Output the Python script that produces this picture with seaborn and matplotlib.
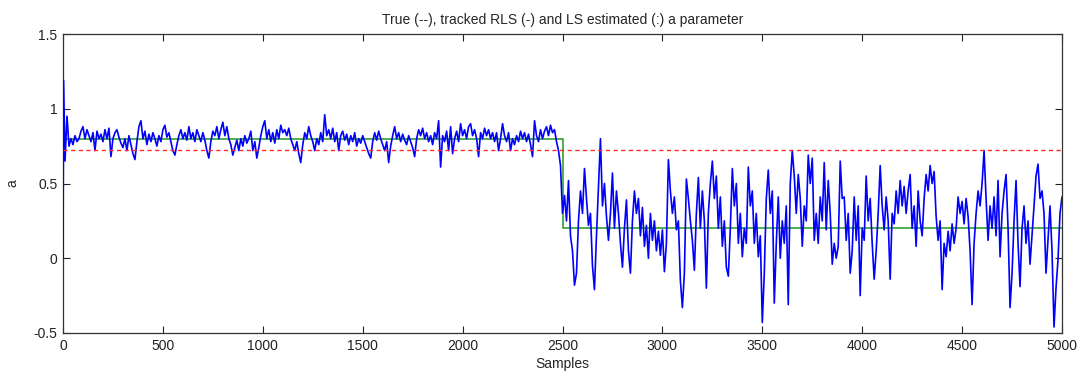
import numpy as np
import pandas as pd
import matplotlib
matplotlib.use("Agg")
import matplotlib.pyplot as plt
import seaborn as sns

# ---- data ----
title = "True (--), tracked RLS (-) and LS estimated (:) a parameter"
xlabel = "Samples"
ylabel = "a"
xticks = [0, 500, 1000, 1500, 2000, 2500, 3000, 3500, 4000, 4500, 5000]
yticks = [-0.5, 0, 0.5, 1, 1.5]

# true parameter (step) and LS estimate (constant)
true_samples = [0, 2500, 5000]
true_values = [0.8, 0.2, 0.2]
ls_samples = [0, 5000]
ls_values = [0.724, 0.724]

# tracked RLS estimate, read every 10 samples (plus the initial spike)
rls_samples = [0, 3] + list(range(10, 5001, 10))
rls_first_half = [
    0.00, 1.19,
    0.65, 0.95, 0.75, 0.80, 0.76, 0.82, 0.78, 0.80, 0.85,
    0.88, 0.80, 0.86, 0.82, 0.78, 0.84, 0.72, 0.85, 0.80, 0.83,
    0.78, 0.86, 0.80, 0.87, 0.68, 0.80, 0.84, 0.86, 0.81, 0.77,
    0.74, 0.80, 0.72, 0.82, 0.76, 0.70, 0.66, 0.78, 0.88, 0.92,
    0.80, 0.85, 0.76, 0.83, 0.78, 0.84, 0.80, 0.75, 0.82, 0.78,
    0.86, 0.89, 0.81, 0.84, 0.78, 0.72, 0.69, 0.76, 0.82, 0.86,
    0.80, 0.84, 0.79, 0.88, 0.80, 0.84, 0.78, 0.86, 0.82, 0.78,
    0.84, 0.79, 0.72, 0.67, 0.78, 0.85, 0.82, 0.88, 0.80, 0.86,
    0.91, 0.82, 0.88, 0.80, 0.76, 0.69, 0.74, 0.79, 0.72, 0.80,
    0.75, 0.82, 0.77, 0.80, 0.85, 0.72, 0.78, 0.67, 0.74, 0.82,
    0.88, 0.92, 0.80, 0.86, 0.78, 0.84, 0.77, 0.86, 0.80, 0.89,
    0.84, 0.86, 0.82, 0.87, 0.80, 0.76, 0.72, 0.78, 0.70, 0.64,
    0.76, 0.84, 0.80, 0.88, 0.82, 0.78, 0.72, 0.80, 0.76, 0.84,
    0.78, 0.96, 0.82, 0.86, 0.80, 0.87, 0.78, 0.84, 0.72, 0.82,
    0.85, 0.79, 0.83, 0.76, 0.82, 0.78, 0.84, 0.75, 0.80, 0.77,
    0.82, 0.78, 0.74, 0.70, 0.67, 0.78, 0.84, 0.79, 0.85, 0.80,
    0.76, 0.72, 0.78, 0.64, 0.75, 0.82, 0.88, 0.80, 0.84, 0.78,
    0.83, 0.79, 0.76, 0.82, 0.78, 0.74, 0.68, 0.80, 0.86, 0.82,
    0.87, 0.80, 0.84, 0.78, 0.82, 0.76, 0.84, 0.80, 0.92, 0.61,
    0.82, 0.78, 0.85, 0.72, 0.88, 0.70, 0.80, 0.85, 0.78, 0.90,
    0.82, 0.86, 0.80, 0.88, 0.90, 0.82, 0.86, 0.80, 0.68, 0.84,
    0.80, 0.87, 0.82, 0.86, 0.80, 0.84, 0.78, 0.84, 0.72, 0.80,
    0.90, 0.82, 0.78, 0.84, 0.72, 0.80, 0.76, 0.82, 0.78, 0.85,
    0.80, 0.84, 0.78, 0.83, 0.76, 0.68, 0.92, 0.82, 0.78, 0.86,
    0.80, 0.85, 0.88, 0.82, 0.89, 0.84, 0.86, 0.78, 0.72, 0.62,
]
rls_second_half = [
    0.30, 0.42, 0.25, 0.52, 0.15, 0.05, -0.18, -0.10, 0.25, 0.45,
    0.30, 0.60, 0.40, 0.22, 0.30, -0.05, -0.21, 0.15, 0.48, 0.80,
    0.35, 0.50, 0.28, 0.12, 0.30, 0.57, 0.20, 0.45, 0.30, 0.10,
    -0.06, 0.20, 0.39, 0.05, -0.10, 0.25, 0.45, 0.30, 0.40, 0.15,
    0.34, 0.08, 0.22, 0.00, 0.30, 0.12, 0.25, 0.05, 0.18, 0.02,
    0.19, -0.09, 0.10, 0.66, 0.45, 0.30, 0.41, 0.19, 0.25, -0.15,
    -0.33, -0.10, 0.53, 0.40, 0.25, 0.12, -0.08, 0.30, 0.54, 0.20,
    0.45, 0.25, -0.20, 0.30, 0.50, 0.65, 0.40, 0.55, 0.20, 0.41,
    0.08, 0.25, -0.06, -0.12, 0.20, 0.60, 0.35, 0.50, 0.10, 0.30,
    0.01, 0.20, 0.10, 0.61, 0.35, 0.45, 0.10, 0.30, 0.01, 0.15,
    -0.43, -0.10, 0.40, 0.59, 0.30, 0.45, -0.30, 0.10, 0.41, 0.00,
    0.25, 0.10, 0.35, -0.31, 0.50, 0.72, 0.55, 0.30, 0.56, 0.40,
    0.08, 0.35, 0.25, 0.69, 0.50, 0.67, 0.12, 0.30, 0.10, 0.41,
    0.25, 0.64, 0.19, 0.52, 0.30, -0.04, 0.10, 0.00, 0.08, 0.65,
    0.40, 0.41, 0.12, 0.30, -0.10, 0.05, 0.41, 0.12, 0.35, -0.25,
    0.20, 0.12, 0.55, 0.25, 0.40, 0.10, -0.14, 0.05, 0.30, 0.62,
    0.35, 0.19, 0.41, 0.25, -0.14, 0.30, 0.23, 0.45, 0.30, 0.52,
    0.35, 0.48, 0.30, 0.45, 0.56, 0.20, 0.35, 0.08, 0.45, 0.25,
    0.15, 0.40, 0.56, 0.45, 0.62, 0.50, 0.58, 0.28, 0.12, 0.25,
    -0.21, 0.10, 0.01, 0.18, 0.05, 0.23, 0.10, 0.20, 0.41, 0.30,
    0.38, 0.23, 0.40, 0.28, 0.05, -0.31, 0.10, 0.30, 0.45, 0.35,
    0.50, 0.72, 0.40, 0.12, 0.35, 0.20, 0.41, 0.15, 0.52, 0.01,
    0.30, 0.45, 0.56, 0.20, -0.33, -0.10, 0.25, 0.52, 0.10, -0.19,
    0.20, 0.35, 0.10, 0.25, -0.04, 0.15, 0.35, 0.55, 0.63, 0.40,
    0.45, 0.30, -0.10, 0.12, 0.35, 0.05, -0.46, -0.20, -0.01, 0.30,
    0.41,
]
rls_values = rls_first_half + rls_second_half

# ---- plotting ----
sns.set_theme(style="ticks")
plt.rcParams["font.family"] = ["Liberation Sans Narrow", "Liberation Sans", "DejaVu Sans"]

fig = plt.figure(figsize=(10.85, 3.82), dpi=100)
ax = fig.add_axes([63 / 1085, 1 - 333 / 382, (1062 - 63) / 1085, (333 - 34) / 382])

df_rls = pd.DataFrame({"Samples": rls_samples, "a": rls_values})
df_true = pd.DataFrame({"Samples": true_samples, "a": true_values})
df_ls = pd.DataFrame({"Samples": ls_samples, "a": ls_values})

sns.lineplot(data=df_true, x="Samples", y="a", ax=ax, color="#1f9a1f",
             linewidth=1.1, drawstyle="steps-post", estimator=None, zorder=2)
sns.lineplot(data=df_rls, x="Samples", y="a", ax=ax, color="#0000ff",
             linewidth=1.2, estimator=None, zorder=3)
sns.lineplot(data=df_ls, x="Samples", y="a", ax=ax, color="#ff2a2a",
             linewidth=1.0, estimator=None, zorder=4, dashes=False)
ax.lines[-1].set_linestyle((0, (3, 2.5)))

ax.set_xlim(0, 5000)
ax.set_ylim(-0.5, 1.5)
ax.set_xticks(xticks)
ax.set_xticklabels([str(t) for t in xticks])
ax.set_yticks(yticks)
ax.set_yticklabels(["-0.5", "0", "0.5", "1", "1.5"])
ax.tick_params(direction="in", top=True, right=True, length=5, width=0.8,
               labelsize=10, colors="#222222", pad=4)
for s in ax.spines.values():
    s.set_visible(True)
    s.set_color("#333333")
    s.set_linewidth(0.9)

ax.set_xlabel(xlabel, fontsize=10, labelpad=3)
ax.set_ylabel(ylabel, fontsize=10, labelpad=10)
ax.set_title(title, fontsize=10, pad=7)
ax.set_facecolor("white")
fig.patch.set_facecolor("white")

fig.savefig("out.png", dpi=100)
